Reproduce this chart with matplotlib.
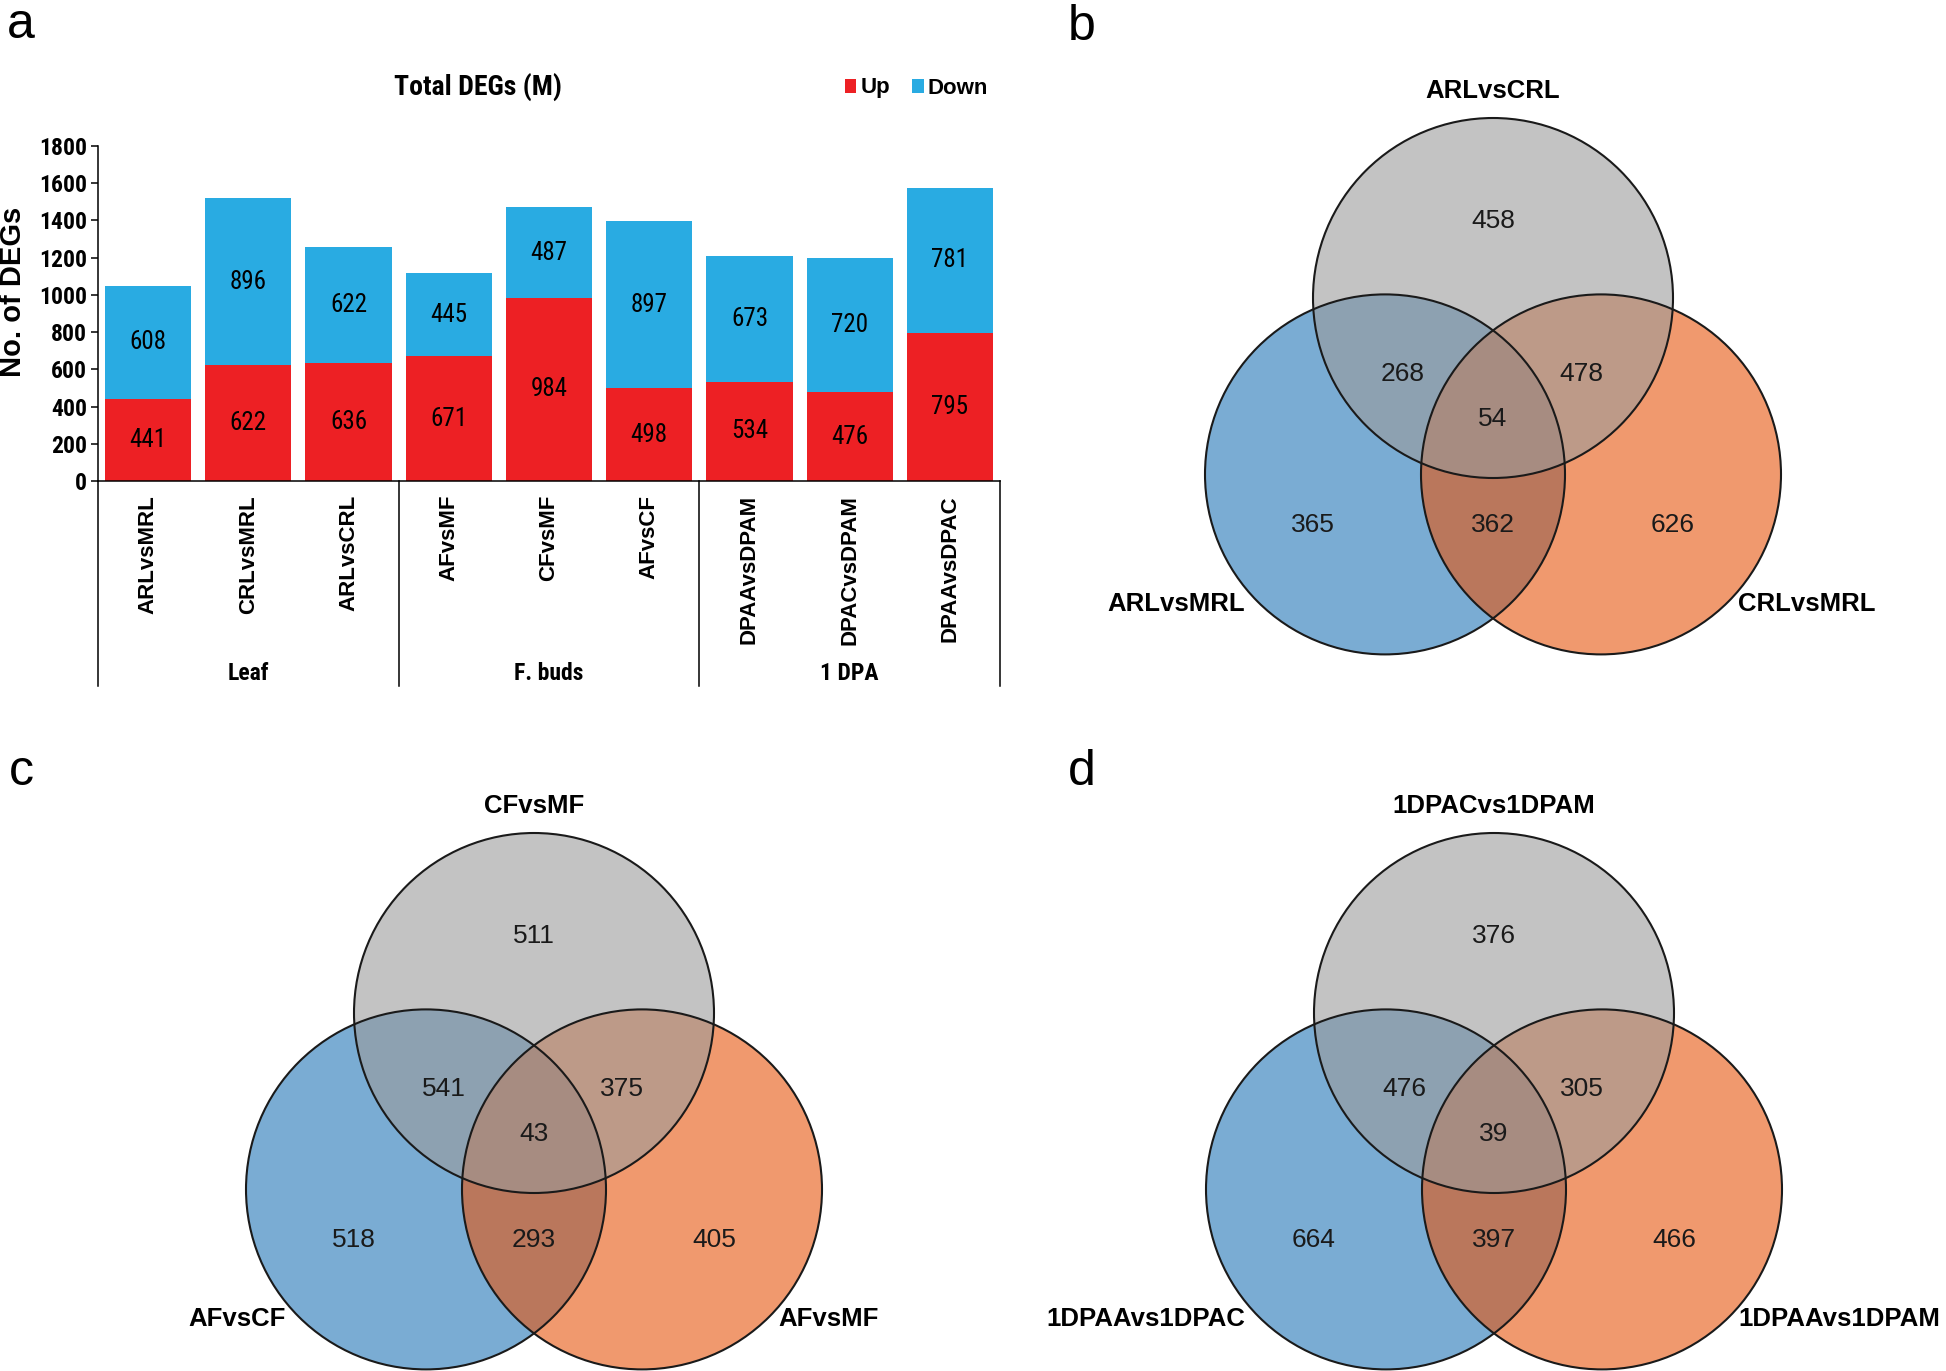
import matplotlib
matplotlib.use("Agg")
import matplotlib.pyplot as plt
import matplotlib.font_manager as fm
from matplotlib.patches import Circle
from matplotlib.transforms import blended_transform_factory

# ---- data ----
categories = ['ARLvsMRL', 'CRLvsMRL', 'ARLvsCRL',
              'AFvsMF', 'CFvsMF', 'AFvsCF',
              'DPAAvsDPAM', 'DPACvsDPAM', 'DPAAvsDPAC']
groups = ['Leaf', 'F. buds', '1 DPA']
group_size = [3, 3, 3]
up = [441, 622, 636, 671, 984, 498, 534, 476, 795]
down = [608, 896, 622, 445, 487, 897, 673, 720, 781]

# venn counts: only top, top&left, top&right, all three, only left, left&right, only right
venn_b_sets = ['ARLvsCRL', 'ARLvsMRL', 'CRLvsMRL']
venn_b_counts = [458, 268, 478, 54, 365, 362, 626]
venn_c_sets = ['CFvsMF', 'AFvsCF', 'AFvsMF']
venn_c_counts = [511, 541, 375, 43, 518, 293, 405]
venn_d_sets = ['1DPACvs1DPAM', '1DPAAvs1DPAC', '1DPAAvs1DPAM']
venn_d_counts = [376, 476, 305, 39, 664, 397, 466]

names = {f.name for f in fm.fontManager.ttflist}
SANS = 'Liberation Sans' if 'Liberation Sans' in names else 'DejaVu Sans'
NARROW = SANS
for cand in ['Liberation Sans Narrow', 'Arial Narrow', 'Roboto Condensed',
             'Open Sans Condensed', 'Noto Sans Condensed']:
    if cand in names:
        NARROW = cand
        break
plt.rcParams['font.family'] = SANS

W, H = 1946, 1371
fig = plt.figure(figsize=(W / 100, H / 100), dpi=100)

RED = '#ED2024'
BLUE = '#29ABE2'

# ---- panel a: stacked bars ----
ax = fig.add_axes([98 / W, 1 - 481 / H, 902 / W, 335 / H])
x = list(range(len(categories)))
b1 = ax.bar(x, up, width=0.86, color=RED, label='Up')
b2 = ax.bar(x, down, width=0.86, bottom=up, color=BLUE, label='Down')
for i in x:
    ax.text(i, up[i] / 2, str(up[i]), ha='center', va='center',
            fontsize=18, family=NARROW)
    ax.text(i, up[i] + down[i] / 2, str(down[i]), ha='center', va='center',
            fontsize=18, family=NARROW)

ax.set_xlim(-0.5, len(categories) - 0.5)
ax.set_ylim(0, 1800)
ax.set_yticks(range(0, 1801, 200))
for t in ax.get_yticklabels():
    t.set_fontfamily(NARROW)
    t.set_fontweight('bold')
    t.set_fontsize(17)
ax.tick_params(axis='y', length=5, width=1.1, pad=3)
ax.set_xticks(x)
ax.set_xticklabels(categories, rotation=90, ha='center', va='top',
                   fontsize=16, fontweight='bold')
ax.tick_params(axis='x', length=0, pad=10)
ax.spines['top'].set_visible(False)
ax.spines['right'].set_visible(False)
for s in ('left', 'bottom'):
    ax.spines[s].set_linewidth(1.1)

# group separators and group labels under the category labels
trans = blended_transform_factory(ax.transData, ax.transAxes)
ybot = -205 / 335
edges = [-0.5]
for n in group_size:
    edges.append(edges[-1] + n)
for e in edges:
    ax.plot([e, e], [0, ybot], color='black', lw=1.1, transform=trans,
            clip_on=False)
for g, lo, hi in zip(groups, edges[:-1], edges[1:]):
    ax.text((lo + hi) / 2, -193 / 335, g, transform=trans, ha='center',
            va='center', fontsize=17, fontweight='bold', family=NARROW)

fig.text(13 / W, 1 - 292 / H, 'No. of DEGs', rotation=90, ha='center',
         va='center', fontsize=21, fontweight='bold')
fig.text(478 / W, 1 - 87 / H, 'Total DEGs (M)', ha='center', va='center',
         fontsize=20, fontweight='bold', family=NARROW)
fig.legend(handles=[b1, b2], labels=['Up', 'Down'], ncol=2, frameon=False,
           loc='center left', bbox_to_anchor=(845 / W, 1 - 88 / H),
           handlelength=0.5, handleheight=0.6, handletextpad=0.2,
           columnspacing=1.0, borderpad=0, borderaxespad=0,
           prop={'weight': 'bold', 'size': 16})

# ---- venn panels ----
ov = fig.add_axes([0, 0, 1, 1])
ov.set_xlim(0, W)
ov.set_ylim(H, 0)
ov.axis('off')
ov.patch.set_visible(False)

R = 180
circ_off = [(0, 0), (-0.6, 0.98), (0.6, 0.98)]   # top, left, right
fills = ['#9B9B9B', '#2176B7', '#E6550D']
num_off = [(0, -0.43), (-0.5, 0.42), (0.49, 0.42), (0, 0.67),
           (-1.0, 1.26), (0, 1.26), (1.0, 1.26)]


def venn(cx, cy, sets, counts):
    for k in (1, 2, 0):
        dx, dy = circ_off[k]
        ov.add_patch(Circle((cx + dx * R, cy + dy * R), R, facecolor=fills[k],
                            alpha=0.6, edgecolor='none'))
    for dx, dy in circ_off:
        ov.add_patch(Circle((cx + dx * R, cy + dy * R), R, fill=False,
                            edgecolor='#1a1a1a', lw=1.5))
    for (dx, dy), c in zip(num_off, counts):
        ov.text(cx + dx * R, cy + dy * R, str(c), ha='center', va='center',
                fontsize=19, color='#1a1a1a')
    ov.text(cx, cy - 1.15 * R, sets[0], ha='center', va='center',
            fontsize=18.5, fontweight='bold')
    ov.text(cx - 1.38 * R, cy + 1.70 * R, sets[1], ha='right', va='center',
            fontsize=18.5, fontweight='bold')
    ov.text(cx + 1.36 * R, cy + 1.70 * R, sets[2], ha='left', va='center',
            fontsize=18.5, fontweight='bold')


venn(1493, 298, venn_b_sets, venn_b_counts)
venn(534, 1013, venn_c_sets, venn_c_counts)
venn(1494, 1013, venn_d_sets, venn_d_counts)

for letter, px, py in [('a', 21, 25), ('b', 1082, 27), ('c', 21, 772), ('d', 1082, 772)]:
    fig.text(px / W, 1 - py / H, letter, ha='center', va='center', fontsize=36)

fig.savefig('out.png', dpi=100)
